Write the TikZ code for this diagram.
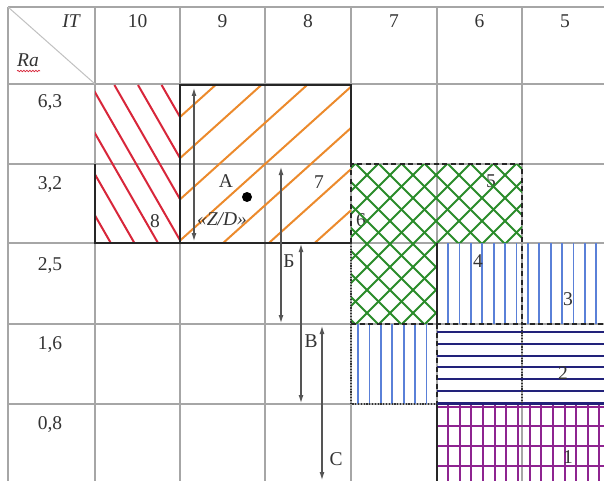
\documentclass[tikz,border=0pt]{standalone}
\usepackage{fontspec}
\setmainfont{Liberation Serif}
\usetikzlibrary{arrows.meta,decorations.pathmorphing}
\definecolor{gridgray}{HTML}{A6A6A6}
\definecolor{hred}{HTML}{D8263A}
\definecolor{horange}{HTML}{EC8A2C}
\definecolor{hgreen}{HTML}{2A8C2A}
\definecolor{hblue}{HTML}{5A80D8}
\definecolor{hnavy}{HTML}{22227A}
\definecolor{hpurple}{HTML}{8E2490}
\definecolor{txt}{HTML}{333333}
\definecolor{arrgray}{HTML}{555555}
\begin{document}
\begin{tikzpicture}[x=1pt,y=-1pt,
  lbl/.style={anchor=base,inner sep=0pt,text=txt,font=\fontsize{19.5}{22}\selectfont},
  itlbl/.style={lbl,font=\fontsize{19.5}{22}\selectfont\itshape},
  gridline/.style={draw=gridgray,line width=1.5pt},
  border/.style={draw=black!85,line width=2.2pt},
  dashborder/.style={draw=black!85,line width=1.8pt,dash pattern=on 5pt off 3.5pt},
  dotborder/.style={draw=black!80,line width=1.5pt,dash pattern=on 1.2pt off 1.6pt},
  dim/.style={draw=arrgray,line width=1.1pt,{Latex[length=8pt,width=5pt]}-{Latex[length=8pt,width=5pt]}},
  redh/.style={draw=hred,line width=2pt},
  orah/.style={draw=horange,line width=2pt},
  greh/.style={draw=hgreen,line width=2pt},
  bluh/.style={draw=hblue,line width=1.8pt},
  navh/.style={draw=hnavy,line width=2.1pt},
  purh/.style={draw=hpurple,line width=2pt},
]
\useasboundingbox[fill=white] (0,0) rectangle (604,481);
% grid
\foreach \x in {8,95,180,265,351,437,522} \draw[gridline] (\x,7) -- (\x,481);
\foreach \y in {7,84,164,243,324,404} \draw[gridline] (8,\y) -- (604,\y);
\draw[draw=gridgray!70,line width=1pt] (8,7) -- (95,84);
% labels under the green hatch
\node[lbl] (n6) at (361,226) {6};
\node[lbl] (n5) at (491,187) {5};
% red hatch
\begin{scope}
\clip (95,85) rectangle (180,243);
\foreach \k in {0,...,7} {\pgfmathsetmacro\xt{161.6-23.6*\k}
  \draw[redh] (\xt,85) -- ++(100,174);}
\end{scope}
% orange hatch
\begin{scope}
\clip (180,85) rectangle (351,243);
\foreach \k in {0,...,6} {\pgfmathsetmacro\cc{279+41.2*\k}
  \draw[orah] (180,\cc-162) -- (351,\cc-315.9);}
\end{scope}
% green cross hatch
\begin{scope}
\clip (351,164) -- (522,164) -- (522,243) -- (437,243) -- (437,324) -- (351,324) -- cycle;
\foreach \k in {0,...,15} {\pgfmathsetmacro\s{519+23*\k}
  \draw[greh] (\s-330,330) -- (\s-160,160);}
\foreach \k in {0,...,16} {\pgfmathsetmacro\d{8+23*\k}
  \draw[greh] (\d+160,160) -- (\d+330,330);}
\end{scope}
% blue verticals
\foreach \k in {0,...,13} \draw[bluh] (448+11.4*\k,243) -- (448+11.4*\k,324);
\foreach \k in {0,...,6} \draw[bluh] (358+11.4*\k,324) -- (358+11.4*\k,404);
% navy horizontals
\foreach \k in {0,...,6} \draw[navh] (437,332+11.8*\k) -- (604,332+11.8*\k);
% purple grid
\foreach \k in {0,...,13} \draw[purh] (448+11.65*\k,404) -- (448+11.65*\k,481);
\foreach \y in {407,426,446,466} \draw[purh] (437,\y) -- (604,\y);
% borders
\draw[border] (180,243) -- (180,85) -- (351,85) -- (351,164);
\draw[border] (95,164) -- (95,243) -- (351,243);
\draw[dashborder] (351,243) -- (351,164) -- (522,164) -- (522,324);
\draw[dashborder] (351,324) -- (604,324);
\draw[dashborder] (437,324) -- (437,404);
\draw[dotborder] (351,243) -- (351,404) -- (437,404);
\draw[dotborder] (522,324) -- (522,404);
\draw[border] (437,243) -- (437,324);
\draw[border] (437,404) -- (437,481);
\draw[draw=hnavy,line width=2.1pt] (437,404) -- (604,404);
% header
\node[itlbl] (hIT) at (71,28) {IT};
\node[itlbl] (hRa) at (28,67) {Ra};
\draw[hred,line width=0.7pt,decorate,decoration={snake,amplitude=0.7pt,segment length=3pt}] (17,71) -- (40,71);
\node[lbl] (c10) at (137.5,28) {10};
\node[lbl] (c9) at (222.5,28) {9};
\node[lbl] (c8) at (308,28) {8};
\node[lbl] (c7) at (394,28) {7};
\node[lbl] (c6) at (479.5,28) {6};
\node[lbl] (c5) at (565,28) {5};
\node[lbl] (r63) at (50,108) {6,3};
\node[lbl] (r32) at (50,189) {3,2};
\node[lbl] (r25) at (50,270) {2,5};
\node[lbl] (r16) at (50,349) {1,6};
\node[lbl] (r08) at (50,429) {0,8};
% region labels
\node[lbl] (n8) at (155,227) {8};
\node[lbl] (n7) at (319,188) {7};
\node[lbl] (n4) at (478,267) {4};
\node[lbl] (n3) at (568,305) {3};
\node[lbl] (n2) at (563,379) {2};
\node[lbl] (n1) at (568,463) {1};
\node[lbl] (nA) at (226,187) {А};
\node[itlbl] (nZD) at (222,225) {«Z/D»};
\node[circle,fill=black,minimum size=10pt,inner sep=0pt] (pt) at (247,197) {};
% dimension arrows
\coordinate (zdT) at (194,88); \coordinate (zdB) at (194,241);
\draw[dim] (zdT) -- (zdB);
\coordinate (bT) at (281,167); \coordinate (bB) at (281,323);
\draw[dim] (bT) -- (bB);
\coordinate (vT) at (301,244); \coordinate (vB) at (301,403);
\draw[dim] (vT) -- (vB);
\coordinate (sT) at (322,326); \coordinate (sB) at (322,480);
\draw[dim] (sT) -- (sB);
\node[lbl] (lB) at (289,267) {Б};
\node[lbl] (lV) at (311,347) {В};
\node[lbl] (lS) at (336,465) {С};
\end{tikzpicture}
\end{document}
